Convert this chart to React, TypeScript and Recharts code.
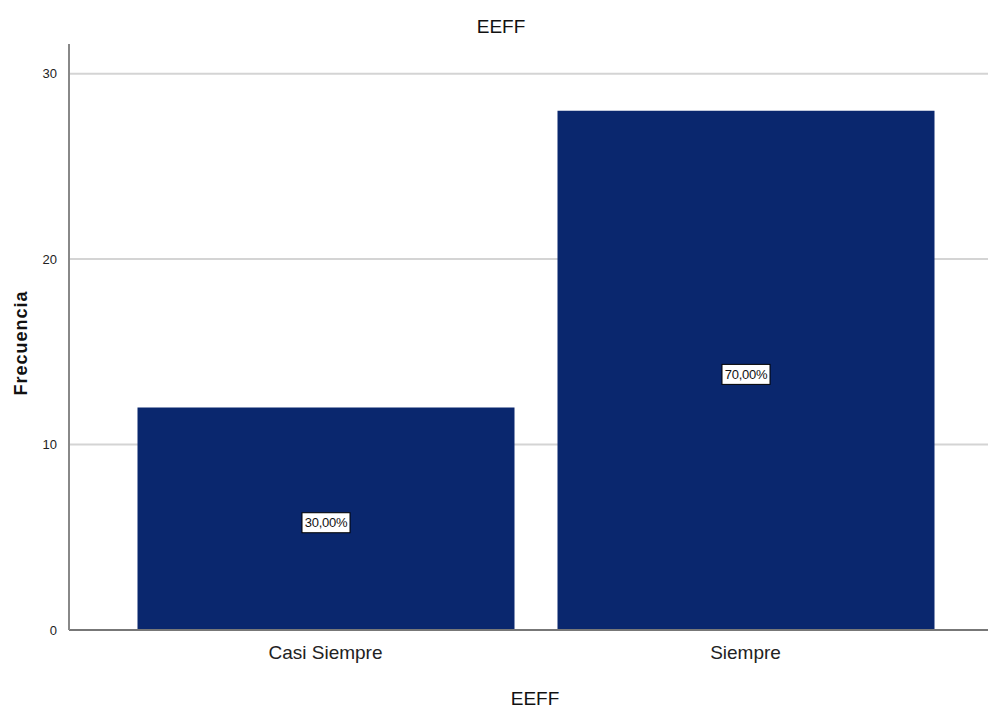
import React from "react";
import {
  BarChart,
  Bar,
  XAxis,
  YAxis,
  CartesianGrid,
  LabelList,
} from "recharts";

const categories = ["Casi Siempre", "Siempre"];
const frequencies = [12, 28];
const percentLabels = ["30,00%", "70,00%"];
const yTicks = [0, 10, 20, 30];
const gridValues = [10, 20, 30];

const data = categories.map((name, i) => ({
  name,
  count: frequencies[i],
  pct: percentLabels[i],
}));

const FONT = '"Liberation Sans", Arial, sans-serif';
const BAR_COLOR = "#0a276e";

function PctLabel(props: any) {
  const { x, y, width, height, value } = props;
  const cx = x + width / 2;
  const cy = y + height / 2 + 4;
  const w = 48;
  const h = 20;
  return (
    <g>
      <rect
        x={cx - w / 2}
        y={cy - h / 2}
        width={w}
        height={h}
        fill="#ffffff"
        stroke="#000000"
        strokeWidth={1}
      />
      <text
        x={cx}
        y={cy + 4.5}
        textAnchor="middle"
        fontSize={13}
        fontFamily={FONT}
        fill="#111"
        letterSpacing={-0.3}
      >
        {value}
      </text>
    </g>
  );
}

export default function App() {
  return (
    <div
      style={{
        position: "absolute",
        left: 0,
        top: 0,
        width: 988,
        height: 711,
        background: "#fff",
        fontFamily: FONT,
      }}
    >
      <div
        style={{
          position: "absolute",
          left: 0,
          width: 1002,
          top: 16,
          textAlign: "center",
          fontSize: 19,
          color: "#111",
        }}
      >
        EEFF
      </div>
      <div
        style={{
          position: "absolute",
          left: 21,
          top: 343,
          transform: "translate(-50%, -50%) rotate(-90deg)",
          fontSize: 18,
          fontWeight: "bold",
          letterSpacing: 1,
          color: "#111",
          whiteSpace: "nowrap",
        }}
      >
        Frecuencia
      </div>
      <div
        style={{
          position: "absolute",
          left: 0,
          width: 1070,
          top: 688,
          textAlign: "center",
          fontSize: 19,
          color: "#111",
        }}
      >
        EEFF
      </div>
      <BarChart
        width={988}
        height={711}
        data={data}
        margin={{ top: 44, right: 0, bottom: 51, left: 0 }}
      >
        <CartesianGrid
          vertical={false}
          horizontalValues={gridValues}
          stroke="#d4d4d4"
          strokeWidth={2}
        />
        <XAxis
          dataKey="name"
          height={30}
          tickLine={false}
          axisLine={{ stroke: "#777", strokeWidth: 2 }}
          padding={{ left: 46.5, right: 32.5 }}
          tick={{ fontSize: 19, fill: "#222", fontFamily: FONT }}
          tickMargin={10}
        />
        <YAxis
          width={69}
          domain={[0, 31.6]}
          ticks={yTicks}
          allowDataOverflow
          tickLine={false}
          axisLine={{ stroke: "#888", strokeWidth: 2 }}
          tick={{ fontSize: 13, fill: "#222", fontFamily: FONT }}
          tickMargin={6}
        />
        <Bar
          dataKey="count"
          fill={BAR_COLOR}
          barSize={377}
          isAnimationActive={false}
        >
          <LabelList dataKey="pct" content={<PctLabel />} />
        </Bar>
      </BarChart>
    </div>
  );
}
